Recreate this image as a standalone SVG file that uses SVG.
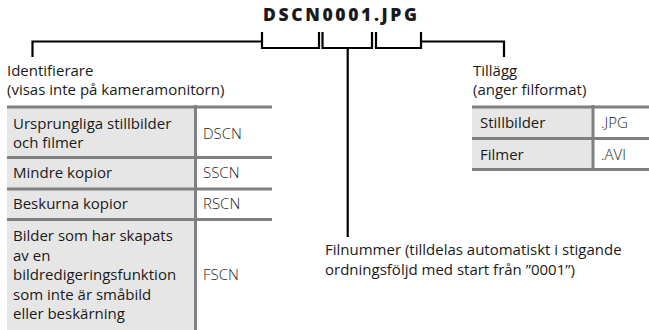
<svg xmlns="http://www.w3.org/2000/svg" width="649" height="330" viewBox="0 0 649 330">
<style>
text{font-family:"Open Sans",Lato,"Liberation Sans",sans-serif;font-size:15px;fill:#1a1a1a}
.t{font-weight:800;font-size:17.5px}
.c{font-weight:300}
.ln{fill:none;stroke:#000;stroke-width:2.2}
.bd{stroke:#808080;stroke-width:3;fill:none}
.g{fill:#e6e6e6}
</style>
<rect width="649" height="330" fill="#fff"/>
<g id="title"><text class="t" x="263" y="21" textLength="154" lengthAdjust="spacing">DSCN0001.JPG</text></g>
<g id="connectors">
<path class="ln" d="M32.5 57V41.5H262"/>
<path class="ln" d="M262 32V48H319V32"/>
<path class="ln" d="M322.5 32V48H372V32"/>
<path class="ln" d="M376 32V48H421V32"/>
<path class="ln" d="M421 41.5H504V57"/>
<path class="ln" d="M347.7 48V237"/>
</g>
<g id="identifier">
<text x="7" y="76">Identifierare</text>
<text x="7" y="95">(visas inte på kameramonitorn)</text>
</g>
<g id="table-identifier">
<rect class="g" x="7" y="107" width="188" height="223"/>
<path class="bd" d="M7 107H272M7 157.5H272M7 189H272M7 219.5H272M195.5 105V330"/>
<text x="13" y="129">Ursprungliga stillbilder</text>
<text x="13" y="148">och filmer</text>
<text class="c" x="203" y="139">DSCN</text>
<text x="13" y="178">Mindre kopior</text>
<text class="c" x="203" y="178">SSCN</text>
<text x="13" y="209">Beskurna kopior</text>
<text class="c" x="203" y="209">RSCN</text>
<text x="13" y="241">Bilder som har skapats</text>
<text x="13" y="261">av en</text>
<text x="13" y="280">bildredigeringsfunktion</text>
<text x="13" y="300">som inte är småbild</text>
<text x="13" y="319">eller beskärning</text>
<text class="c" x="203" y="280">FSCN</text>
</g>
<g id="extension">
<text x="473" y="76">Tillägg</text>
<text x="473" y="95">(anger filformat)</text>
</g>
<g id="table-extension">
<rect class="g" x="472" y="107" width="121" height="62.5"/>
<path class="bd" d="M472 107H649M472 138.5H649M472 169.5H649M593 105V169.5"/>
<text x="480" y="128">Stillbilder</text>
<text class="c" x="601" y="128">.JPG</text>
<text x="480" y="160">Filmer</text>
<text class="c" x="601" y="160">.AVI</text>
</g>
<g id="file-number">
<text x="325" y="255">Filnummer (tilldelas automatiskt i stigande</text>
<text x="325" y="275">ordningsföljd med start från ”0001”)</text>
</g>
</svg>
